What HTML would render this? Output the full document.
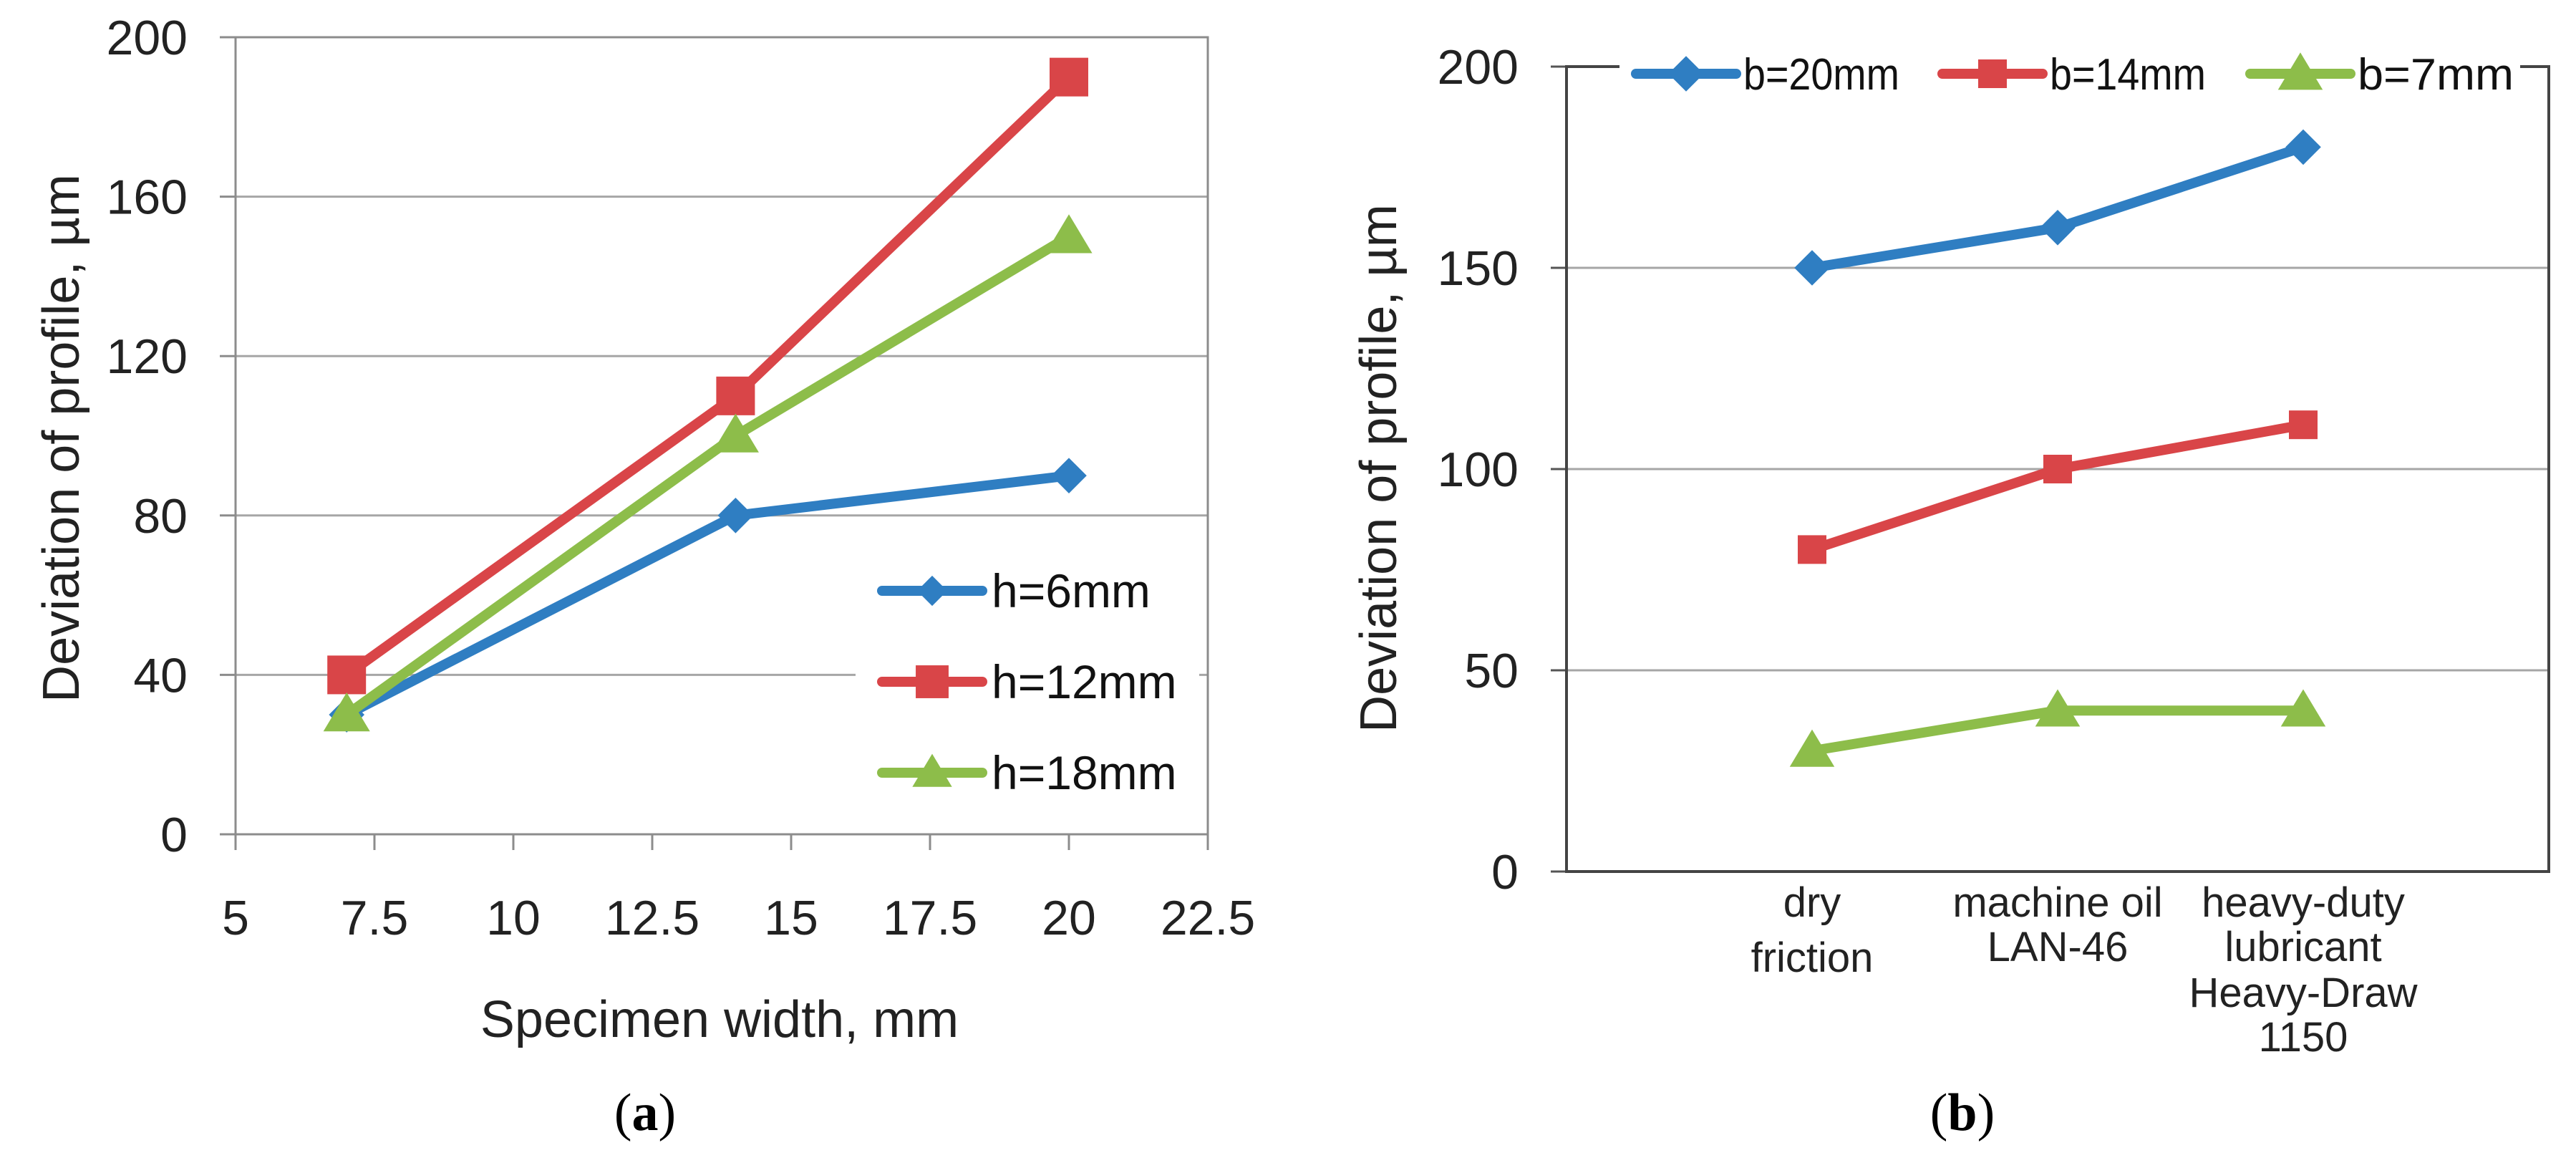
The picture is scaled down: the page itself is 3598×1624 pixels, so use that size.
<!DOCTYPE html>
<html><head><meta charset="utf-8"><style>
html,body{margin:0;padding:0;background:#fff;}
svg{display:block;font-family:"Liberation Sans",sans-serif;}
</style></head><body>
<svg id="fig" width="3598" height="1624" viewBox="0 0 3598 1624" xmlns="http://www.w3.org/2000/svg">
<g id="chartA"></g>
<g id="chartB"></g>
</svg>
<script>
// Chart (a) data
const aX = [7, 14, 20];
const aH6 = [30, 80, 90];
const aH12 = [40, 110, 190];
const aH18 = [30, 100, 150];
const aSeriesNames = ["h=6mm", "h=12mm", "h=18mm"];
const aYTicks = [0, 40, 80, 120, 160, 200];
const aXTicks = [5, 7.5, 10, 12.5, 15, 17.5, 20, 22.5];
const aXTickLabels = ["5", "7.5", "10", "12.5", "15", "17.5", "20", "22.5"];
// Chart (b) data
const bCategories = [["dry", "friction"], ["machine oil", "LAN-46"], ["heavy-duty", "lubricant", "Heavy-Draw", "1150"]];
const bB20 = [150, 160, 180];
const bB14 = [80, 100, 111];
const bB7 = [30, 40, 40];
const bSeriesNames = ["b=20mm", "b=14mm", "b=7mm"];
const bYTicks = [0, 50, 100, 150, 200];

const NS = "http://www.w3.org/2000/svg";
const COLORS = ["#2f7ec2", "#d94548", "#8dbd4a"];
const MARKERS = ["diamond", "square", "triangle"];
function mk(parent, tag, attrs, text) {
  const e = document.createElementNS(NS, tag);
  for (const k in attrs) e.setAttribute(k, attrs[k]);
  if (text !== undefined) e.textContent = text;
  parent.appendChild(e);
  return e;
}
function marker(g, type, cx, cy, s, color) {
  let e;
  if (type === "square") e = mk(g, "rect", {x: cx - s/2, y: cy - s/2, width: s, height: s, fill: color});
  else if (type === "diamond") { const r = s*0.62; e = mk(g, "polygon", {points: `${cx},${cy-r} ${cx+r},${cy} ${cx},${cy+r} ${cx-r},${cy}`, fill: color}); }
  else { const r = s*0.62; e = mk(g, "polygon", {points: `${cx},${cy-r} ${cx+r*1.05},${cy+r*0.75} ${cx-r*1.05},${cy+r*0.75}`, fill: color}); }
  return e;
}

// ---------- Chart A ----------
(function(){
  const g = document.getElementById("chartA");
  const L = 329, R = 1687, T = 52, B = 1165;
  const xs = v => L + (v - 5) / 17.5 * (R - L);
  const ys = v => B - v / 200 * (B - T);
  aYTicks.forEach(v => {
    const y = ys(v);
    if (v > 0) {
      const gl = mk(g, "line", {x1: L, x2: R, y1: y, y2: y, stroke: "#a6a6a6", "stroke-width": 3});
      
      
    }
    mk(g, "line", {x1: L - 22, x2: L, y1: y, y2: y, stroke: "#8c8c8c", "stroke-width": 3});
    const t = mk(g, "text", {x: 262, y: y + 24, "text-anchor": "end", "font-size": 68, fill: "#222"}, String(v));
    
    
  });
  mk(g, "rect", {x: L, y: T, width: R - L, height: B - T, fill: "none", stroke: "#8c8c8c", "stroke-width": 3});
  aXTicks.forEach((v, i) => {
    const x = xs(v);
    mk(g, "line", {x1: x, x2: x, y1: B, y2: B + 22, stroke: "#8c8c8c", "stroke-width": 3});
    const t = mk(g, "text", {x: x, y: 1305, "text-anchor": "middle", "font-size": 68, fill: "#222"}, aXTickLabels[i]);
    
    
  });
  const lb = mk(g, "rect", {x: 1195, y: 770, width: 480, height: 350, fill: "#fff"});
  
  
  const series = [aH6, aH12, aH18];
  const sizes = [40, 54, 50];
  series.forEach((vals, si) => {
    const pts = vals.map((v, i) => `${xs(aX[i])},${ys(v)}`).join(" ");
    const pl = mk(g, "polyline", {points: pts, fill: "none", stroke: COLORS[si], "stroke-width": 14, "stroke-linejoin": "round", "stroke-linecap": "round"});
    
    
    vals.forEach((v, i) => {
      const m = marker(g, MARKERS[si], xs(aX[i]), ys(v), sizes[si], COLORS[si]);
      
      
    });
    const ly = 825 + si * 127;
    mk(g, "line", {x1: 1232, x2: 1372, y1: ly, y2: ly, stroke: COLORS[si], "stroke-width": 14, "stroke-linecap": "round"});
    marker(g, MARKERS[si], 1302, ly, sizes[si] * 0.85, COLORS[si]);
    const t = mk(g, "text", {x: 1385, y: ly + 23, "font-size": 66, fill: "#111"}, aSeriesNames[si]);
    
    
  });
  const yt = mk(g, "text", {x: 0, y: 0, "text-anchor": "middle", "font-size": 72, fill: "#222", transform: "translate(110,612) rotate(-90)"}, "Deviation of profile,  µm");
  
  
  const xt = mk(g, "text", {x: 1005, y: 1448, "text-anchor": "middle", "font-size": 72, fill: "#222"}, "Specimen width, mm");
  
  
  const cap = mk(g, "text", {x: 901, y: 1578, "text-anchor": "middle", "font-size": 74, fill: "#000", "font-family": "Liberation Serif, serif"});
  cap.innerHTML = '(<tspan font-weight="bold">a</tspan>)';
  
  
})();

// ---------- Chart B ----------
(function(){
  const g = document.getElementById("chartB");
  const L = 2188, R = 3560, T = 93, B = 1217;
  const band = (R - L) / 4;
  const xs = i => L + (i + 1) * band;
  const ys = v => B - v / 200 * (B - T);
  bYTicks.forEach(v => {
    const y = ys(v);
    if (v > 0 && v < 200) {
      const gl = mk(g, "line", {x1: L, x2: R, y1: y, y2: y, stroke: "#a6a6a6", "stroke-width": 3});
      
      
    }
    mk(g, "line", {x1: L - 22, x2: L, y1: y, y2: y, stroke: "#555", "stroke-width": 3});
    const t = mk(g, "text", {x: 2121, y: y + 24, "text-anchor": "end", "font-size": 68, fill: "#222"}, String(v));
    
    
  });
  mk(g, "rect", {x: L, y: T, width: R - L, height: B - T, fill: "none", stroke: "#444", "stroke-width": 4});
  const lb = mk(g, "rect", {x: 2262, y: 70, width: 1258, height: 70, fill: "#fff"});
  
  
  const rowY = [[1280, 1357], [1280, 1342], [1280, 1342, 1406, 1468]];
  bCategories.forEach((lines, i) => {
    lines.forEach((ln, j) => {
      const t = mk(g, "text", {x: xs(i), y: rowY[i][j], "text-anchor": "middle", "font-size": 58, fill: "#222"}, ln);
      
      
    });
  });
  const series = [bB20, bB14, bB7];
  const sizes = [40, 40, 48];
  const legX = [2285, 2713, 3143];
  series.forEach((vals, si) => {
    const pts = vals.map((v, i) => `${xs(i)},${ys(v)}`).join(" ");
    const pl = mk(g, "polyline", {points: pts, fill: "none", stroke: COLORS[si], "stroke-width": 14, "stroke-linejoin": "round", "stroke-linecap": "round"});
    
    
    vals.forEach((v, i) => {
      const m = marker(g, MARKERS[si], xs(i), ys(v), sizes[si], COLORS[si]);
      
      
    });
    const lx = legX[si];
    mk(g, "line", {x1: lx, x2: lx + 140, y1: 103, y2: 103, stroke: COLORS[si], "stroke-width": 14, "stroke-linecap": "round"});
    marker(g, MARKERS[si], lx + 70, 103, sizes[si], COLORS[si]);
    const t = mk(g, "text", {x: lx + 150, y: 125, "font-size": 62, "textLength": 218, "lengthAdjust": "spacingAndGlyphs", fill: "#111"}, bSeriesNames[si]);
    
    
  });
  const yt = mk(g, "text", {x: 0, y: 0, "text-anchor": "middle", "font-size": 72, fill: "#222", transform: "translate(1950,654) rotate(-90)"}, "Deviation of profile, µm");
  
  
  const cap = mk(g, "text", {x: 2741, y: 1578, "text-anchor": "middle", "font-size": 74, fill: "#000", "font-family": "Liberation Serif, serif"});
  cap.innerHTML = '(<tspan font-weight="bold">b</tspan>)';
  
  
})();
</script>
</body></html>
